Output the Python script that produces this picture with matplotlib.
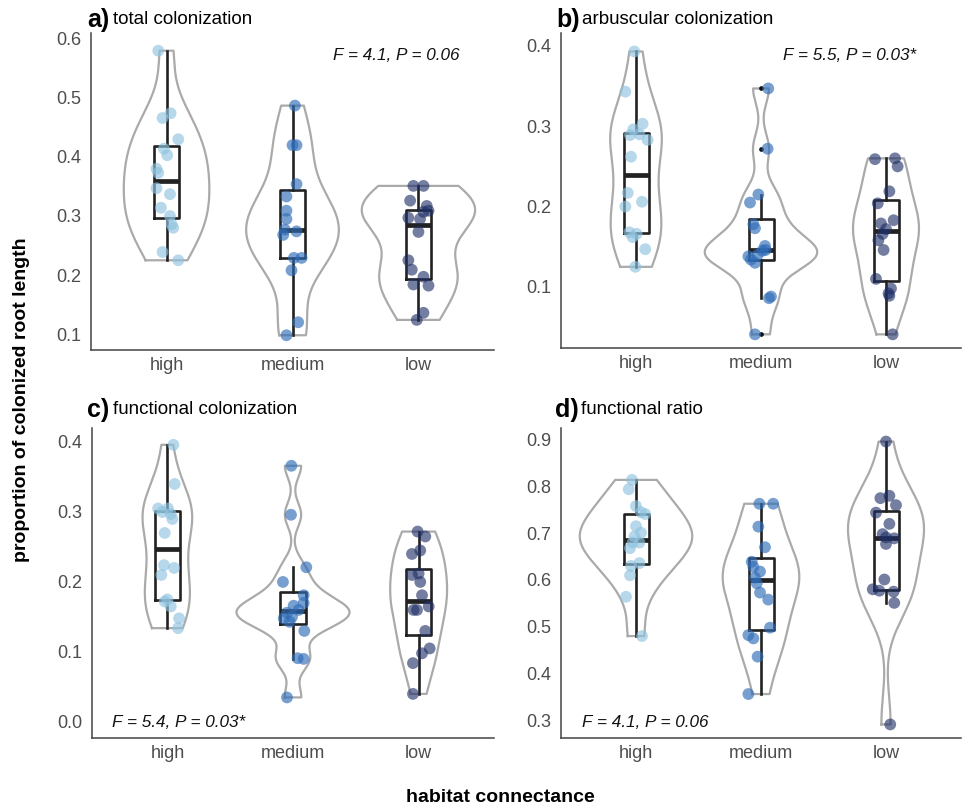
"""
Violin + box + jitter plots of AMF root colonization across
habitat connectance classes (four panels).
"""

import numpy as np
import matplotlib
matplotlib.use("Agg")
import matplotlib.pyplot as plt
from matplotlib.ticker import FormatStrFormatter

plt.rcParams["font.family"] = ["Liberation Sans", "DejaVu Sans"]

# ── Data ──────────────────────────────────────────────────────────────────────

GROUPS = ["high", "medium", "low"]

# a) total colonization
TOTAL_HIGH = [0.580, 0.466, 0.474, 0.430, 0.414, 0.403, 0.380, 0.373,
              0.347, 0.337, 0.314, 0.300, 0.286, 0.280, 0.239, 0.225]
TOTAL_MED = [0.487, 0.420, 0.420, 0.354, 0.333, 0.309, 0.295, 0.277,
             0.274, 0.268, 0.229, 0.229, 0.208, 0.120, 0.098]
TOTAL_LOW = [0.351, 0.351, 0.326, 0.317, 0.307, 0.309, 0.297, 0.295,
             0.273, 0.225, 0.209, 0.184, 0.197, 0.182, 0.136, 0.124]

# b) arbuscular colonization
ARB_HIGH = [0.393, 0.343, 0.303, 0.296, 0.289, 0.283, 0.290, 0.262,
            0.217, 0.206, 0.200, 0.168, 0.166, 0.162, 0.147, 0.125]
ARB_MED = [0.347, 0.272, 0.215, 0.205, 0.178, 0.173, 0.151, 0.146,
           0.145, 0.140, 0.138, 0.134, 0.130, 0.088, 0.086, 0.041]
ARB_LOW = [0.259, 0.260, 0.250, 0.219, 0.204, 0.179, 0.183, 0.166,
           0.172, 0.158, 0.146, 0.110, 0.098, 0.092, 0.089, 0.041]

# c) functional colonization
FUNC_HIGH = [0.396, 0.340, 0.305, 0.305, 0.300, 0.297, 0.290, 0.270,
             0.224, 0.220, 0.210, 0.175, 0.172, 0.165, 0.148, 0.134]
FUNC_MED = [0.366, 0.296, 0.221, 0.200, 0.181, 0.170, 0.166, 0.160,
            0.156, 0.150, 0.148, 0.143, 0.130, 0.091, 0.090, 0.035]
FUNC_LOW = [0.272, 0.265, 0.240, 0.245, 0.212, 0.210, 0.200, 0.181,
            0.160, 0.160, 0.165, 0.130, 0.098, 0.105, 0.084, 0.040]

# d) functional ratio
RATIO_HIGH = [0.814, 0.794, 0.758, 0.745, 0.741, 0.715, 0.701, 0.693,
              0.680, 0.680, 0.668, 0.636, 0.630, 0.610, 0.564, 0.480]
RATIO_MED = [0.763, 0.763, 0.714, 0.670, 0.639, 0.628, 0.618, 0.605,
             0.593, 0.573, 0.558, 0.498, 0.482, 0.475, 0.436, 0.356]
RATIO_LOW = [0.896, 0.775, 0.780, 0.760, 0.744, 0.720, 0.698, 0.691,
             0.689, 0.677, 0.601, 0.580, 0.577, 0.575, 0.551, 0.291]

# horizontal jitter of each point (category units), as seen in the figure
JIT_TOTAL_HIGH = [-0.066, -0.032, 0.032, 0.093, -0.021, 0.005, -0.080, -0.066,
                  -0.080, 0.027, -0.045, 0.027, 0.040, 0.053, -0.032, 0.093]
JIT_TOTAL_MED = [0.019, 0.0, 0.032, 0.032, -0.048, -0.048, -0.048, -0.061,
                 0.032, -0.074, 0.011, 0.072, -0.008, 0.045, -0.048]
JIT_TOTAL_LOW = [-0.040, 0.040, -0.066, 0.066, 0.040, 0.080, -0.080, 0.013,
                 0.0, -0.080, -0.053, -0.040, 0.040, 0.080, 0.040, -0.013]
JIT_ARB_HIGH = [-0.013, -0.085, 0.053, -0.021, -0.048, 0.093, 0.027, -0.040,
                -0.066, 0.048, -0.085, -0.053, 0.005, -0.027, 0.074, -0.005]
JIT_ARB_MED = [0.058, 0.053, -0.021, -0.088, -0.061, -0.048, 0.032, 0.037,
               0.011, -0.027, -0.101, -0.080, -0.048, 0.080, 0.064, -0.048]
JIT_ARB_LOW = [-0.088, 0.072, 0.093, 0.027, -0.066, -0.040, 0.061, -0.027,
               0.0, -0.061, -0.019, -0.080, 0.040, 0.021, 0.027, 0.053]
JIT_FUNC_HIGH = [0.048, 0.058, -0.074, 0.005, -0.040, 0.027, 0.040, -0.021,
                 -0.027, 0.053, -0.048, 0.0, -0.021, 0.027, 0.093, 0.085]
JIT_FUNC_MED = [-0.013, -0.016, 0.106, -0.080, 0.085, 0.085, 0.005, 0.045,
                -0.048, -0.008, -0.074, -0.027, 0.090, 0.037, 0.085, -0.048]
JIT_FUNC_LOW = [-0.008, 0.053, -0.053, 0.013, 0.0, -0.053, 0.013, 0.027,
                -0.040, -0.013, 0.080, 0.053, 0.027, 0.088, -0.045, -0.045]
JIT_RATIO_HIGH = [-0.032, -0.058, 0.0, 0.040, 0.074, 0.0, 0.040, -0.013,
                  -0.027, 0.027, -0.048, 0.027, -0.040, -0.048, -0.080, 0.048]
JIT_RATIO_MED = [-0.013, 0.098, -0.021, 0.032, -0.074, -0.061, -0.008, -0.048,
                 -0.034, -0.008, 0.058, 0.072, -0.101, -0.061, -0.027, -0.101]
JIT_RATIO_LOW = [0.0, -0.045, 0.027, 0.080, -0.080, 0.027, -0.027, 0.0,
                 0.066, 0.0, -0.013, -0.106, -0.053, 0.061, 0.066, 0.034]

PANEL_LETTERS = ["a)", "b)", "c)", "d)"]
PANEL_TITLES = ["total colonization", "arbuscular colonization",
                "functional colonization", "functional ratio"]
STATS = ["F = 4.1, P = 0.06", "F = 5.5, P = 0.03*",
         "F = 5.4, P = 0.03*", "F = 4.1, P = 0.06"]
Y_TICKS = [[0.1, 0.2, 0.3, 0.4, 0.5, 0.6],
           [0.1, 0.2, 0.3, 0.4],
           [0.0, 0.1, 0.2, 0.3, 0.4],
           [0.3, 0.4, 0.5, 0.6, 0.7, 0.8, 0.9]]

# ── Style ─────────────────────────────────────────────────────────────────────

W, H = 963, 806
POINT_COLORS = ["#8fc3e0", "#2f6cb8", "#1f2f66"]
POINT_ALPHA = [0.65, 0.65, 0.62]
VIOLIN_GREY = "#aaaaaa"
BOX_COLOR = "#222222"
TEXT_GREY = "#4d4d4d"

# axes boxes in pixels: left, top, right, bottom
PANEL_BOX = [(91, 33, 494, 350), (561, 33, 961, 348),
             (92, 428, 494, 738), (561, 428, 961, 738)]
Y_LIMITS = [(0.073, 0.61), (0.024, 0.416), (-0.023, 0.42), (0.262, 0.925)]
LETTER_POS = [(87, 20), (556, 20), (87, 410), (555, 410)]
STATS_POS = [(0.60, 0.93), (0.555, 0.93), (0.05, 0.05), (0.052, 0.05)]
SHOW_OUTLIERS = [False, True, False, False]


def px_rect(left, top, right, bottom):
    return [left / W, 1 - bottom / H, (right - left) / W, (bottom - top) / H]


# ── Violin density (gaussian kernel, nrd0 bandwidth, trimmed) ─────────────────

def bw_nrd0(x):
    x = np.asarray(x)
    sd = x.std(ddof=1)
    q75, q25 = np.percentile(x, [75, 25])
    lo = min(sd, (q75 - q25) / 1.34)
    return 0.9 * lo * len(x) ** -0.2


def density(x, grid):
    x = np.asarray(x)
    bw = bw_nrd0(x)
    z = (grid[:, None] - x[None, :]) / bw
    return np.exp(-0.5 * z ** 2).sum(axis=1) / (len(x) * bw * np.sqrt(2 * np.pi))


def draw_violins(ax, groups):
    grids = [np.linspace(min(v), max(v), 512) for v in groups]
    dens = [density(v, g) for v, g in zip(groups, grids)]
    peak = max(d.max() for d in dens)          # scale = "area"
    for pos, (g, d) in enumerate(zip(grids, dens), start=1):
        half = 0.45 * d / peak
        xs = np.concatenate([pos - half, (pos + half)[::-1], [pos - half[0]]])
        ys = np.concatenate([g, g[::-1], [g[0]]])
        ax.plot(xs, ys, color=VIOLIN_GREY, lw=1.6, zorder=1)


# ── Panel ─────────────────────────────────────────────────────────────────────

def draw_panel(fig, idx, groups, jitters):
    ax = fig.add_axes(px_rect(*PANEL_BOX[idx]))

    draw_violins(ax, groups)

    ax.boxplot(groups, positions=[1, 2, 3], widths=0.2, showcaps=False,
               showfliers=SHOW_OUTLIERS[idx],
               boxprops=dict(color=BOX_COLOR, lw=1.9),
               whiskerprops=dict(color=BOX_COLOR, lw=1.9),
               medianprops=dict(color=BOX_COLOR, lw=3.4),
               flierprops=dict(marker="o", markersize=3.4,
                               markerfacecolor="#111111",
                               markeredgecolor="none"),
               zorder=2)

    for i, (vals, jit) in enumerate(zip(groups, jitters)):
        xs = np.full(len(vals), i + 1.0) + np.asarray(jit)
        ax.scatter(xs, vals, s=72, color=POINT_COLORS[i],
                   alpha=POINT_ALPHA[i], edgecolors="none", zorder=3)

    ax.set_xlim(0.4, 3.6)
    ax.set_ylim(*Y_LIMITS[idx])
    ax.set_xticks([1, 2, 3])
    ax.set_xticklabels(GROUPS)
    ax.set_yticks(Y_TICKS[idx])
    ax.yaxis.set_major_formatter(FormatStrFormatter("%.1f"))
    ax.tick_params(length=0, labelsize=13, labelcolor=TEXT_GREY)
    ax.tick_params(axis="y", pad=7)
    ax.tick_params(axis="x", pad=5)
    for side in ["top", "right"]:
        ax.spines[side].set_visible(False)
    for side in ["left", "bottom"]:
        ax.spines[side].set_color("#444444")
        ax.spines[side].set_linewidth(1.1)

    sx, sy = STATS_POS[idx]
    ax.text(sx, sy, STATS[idx], transform=ax.transAxes, fontsize=12.3,
            style="italic", ha="left", va="center", color="#111111")

    lx, ly = LETTER_POS[idx]
    fig.text(lx / W, 1 - ly / H, PANEL_LETTERS[idx], fontsize=18,
             fontweight="bold", ha="left", va="center")
    fig.text((lx + 26) / W, 1 - ly / H, PANEL_TITLES[idx], fontsize=13.5,
             ha="left", va="center")
    return ax


def main():
    fig = plt.figure(figsize=(W / 100, H / 100), dpi=100)

    panels = [
        ([TOTAL_HIGH, TOTAL_MED, TOTAL_LOW],
         [JIT_TOTAL_HIGH, JIT_TOTAL_MED, JIT_TOTAL_LOW]),
        ([ARB_HIGH, ARB_MED, ARB_LOW],
         [JIT_ARB_HIGH, JIT_ARB_MED, JIT_ARB_LOW]),
        ([FUNC_HIGH, FUNC_MED, FUNC_LOW],
         [JIT_FUNC_HIGH, JIT_FUNC_MED, JIT_FUNC_LOW]),
        ([RATIO_HIGH, RATIO_MED, RATIO_LOW],
         [JIT_RATIO_HIGH, JIT_RATIO_MED, JIT_RATIO_LOW]),
    ]
    for idx, (groups, jitters) in enumerate(panels):
        draw_panel(fig, idx, groups, jitters)

    fig.text(22 / W, 1 - 400 / H, "proportion of colonized root length",
             rotation=90, fontsize=14, fontweight="bold",
             ha="center", va="center")
    fig.text(500 / W, 1 - 798 / H, "habitat connectance",
             fontsize=14, fontweight="bold", ha="center", va="center")

    fig.savefig("out.png", dpi=100)
    plt.close(fig)


if __name__ == "__main__":
    main()
